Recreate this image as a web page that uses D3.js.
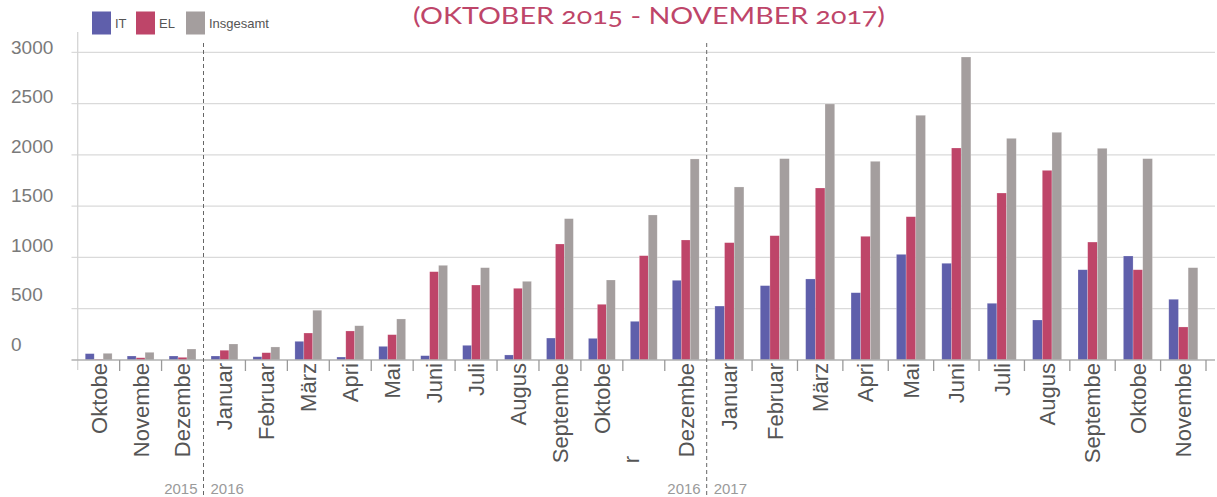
<!DOCTYPE html>
<html><head><meta charset="utf-8">
<script src="https://cdn.jsdelivr.net/npm/d3@7"></script>
<style>
html,body{margin:0;padding:0;background:#fff;}
svg{display:block;}
</style></head>
<body><svg id="chart" width="1217" height="497"></svg>
<script>
// ---- data ----
const years = [2015,2015,2015,2016,2016,2016,2016,2016,2016,2016,2016,2016,2016,2016,2016,2017,2017,2017,2017,2017,2017,2017,2017,2017,2017,2017];
const tickLabels = ["Oktobe","Novembe","Dezembe","Januar","Februar","März","Apri","Mai","Juni","Juli","Augus","Septembe","Oktobe","","Dezembe","Januar","Februar","März","Apri","Mai","Juni","Juli","Augus","Septembe","Oktobe","Novembe"];
const overflowLabels = ["","","","","","","","","","","","","","r","","","","","","","","","","","",""];
const seriesNames = ["IT","EL","Insgesamt"];
const itValues = [62,39,39,39,32,182,29,133,42,143,49,214,211,377,777,526,725,790,656,1030,943,553,390,880,1014,592];
const elValues = [8,22,26,95,71,263,283,247,861,731,699,1131,543,1017,1170,1144,1212,1677,1206,1397,2067,1628,1849,1150,880,322];
const totalValues = [65,75,107,156,127,485,334,400,923,900,767,1378,780,1414,1960,1687,1963,2496,1937,2386,2954,2161,2220,2064,1963,900];
const yTicks = [0,500,1000,1500,2000,2500,3000];
const titleText = "(OKTOBER 2015 - NOVEMBER 2017)";

const colors = {IT:"#5f5fab", EL:"#be4569", Insgesamt:"#a49e9e"};
const seriesValues = {IT:itValues, EL:elValues, Insgesamt:totalValues};

// ---- layout ----
const svg = d3.select("#chart");
const baseY = 360, topY = 52.3;
const y = d3.scaleLinear().domain([0,3000]).range([baseY, topY]);
const yLabel = d3.scaleLinear().domain([0,3000]).range([344, 47]);

// year boundaries
const bounds = [];
for (let i=1;i<years.length;i++) if (years[i]!==years[i-1]) bounds.push(i);
const n = years.length;
const x = d3.scaleLinear().domain([0, bounds[1], n]).range([77.7, 706.7, 1206]);

// gridlines
svg.append("g").selectAll("line").data(yTicks.filter(d=>d>0)).join("line")
  .attr("x1",71.5).attr("x2",1215)
  .attr("y1",d=>y(d)).attr("y2",d=>y(d))
  .attr("stroke","#dadada").attr("stroke-width",1.3);

// y-axis vertical line
svg.append("line").attr("x1",77.7).attr("x2",77.7).attr("y1",32).attr("y2",370)
  .attr("stroke","#d4d4d4").attr("stroke-width",1.3);

// y labels
svg.append("g").selectAll("text").data(yTicks).join("text")
  .attr("x",11).attr("y",d=>yLabel(d)).attr("dy","0.35em")
  .attr("font-family","Liberation Sans, Arial, sans-serif").attr("font-size",19)
  .attr("fill","#7a7a7a").text(d=>d);

// bars
const barG = svg.append("g");
for (let i=0;i<n;i++){
  const x0 = x(i), w = x(i+1)-x(i);
  const gw = w*0.64;
  const sub = d3.scaleBand().domain(seriesNames).range([x0+(w-gw)/2, x0+(w+gw)/2]);
  seriesNames.forEach(s=>{
    const v = seriesValues[s][i];
    barG.append("rect")
      .attr("x",sub(s)).attr("width",sub.bandwidth())
      .attr("y",y(v)).attr("height",baseY-y(v))
      .attr("fill",colors[s])
      .attr("stroke","#ffffff").attr("stroke-opacity",0.35).attr("stroke-width",0.6);
  });
}

// baseline
svg.append("line").attr("x1",71.5).attr("x2",1215).attr("y1",baseY).attr("y2",baseY)
  .attr("stroke","#b0b0b0").attr("stroke-width",1.3);

// x ticks (separators)
const tickIdx = d3.range(1, n+1).filter(i=>!bounds.includes(i));
svg.append("g").selectAll("line").data(tickIdx).join("line")
  .attr("x1",d=>x(d)).attr("x2",d=>x(d)).attr("y1",baseY).attr("y2",baseY+11)
  .attr("stroke","#9a9a9a").attr("stroke-width",1.3);

// month labels
svg.append("g").selectAll("text").data(tickLabels).join("text")
  .attr("transform",(d,i)=>`translate(${(x(i)+x(i+1))/2},${baseY+3}) rotate(-90)`)
  .attr("text-anchor","end").attr("dy","0.36em")
  .attr("font-family","Liberation Sans, Arial, sans-serif").attr("font-size",22)
  .attr("fill","#555").text(d=>d);
svg.append("g").selectAll("text").data(overflowLabels).join("text")
  .attr("transform",(d,i)=>`translate(${(x(i)+x(i+1))/2 - 13},${baseY+96}) rotate(-90)`)
  .attr("text-anchor","end").attr("dy","0.36em")
  .attr("font-family","Liberation Sans, Arial, sans-serif").attr("font-size",22)
  .attr("fill","#555").text(d=>d);

// year dividers
bounds.forEach(b=>{
  const bx = x(b);
  svg.append("line").attr("x1",bx).attr("x2",bx).attr("y1",43).attr("y2",497)
    .attr("stroke","#666").attr("stroke-width",1).attr("stroke-dasharray","4,3");
  svg.append("text").attr("x",bx-6).attr("y",494).attr("text-anchor","end")
    .attr("font-family","Liberation Sans, Arial, sans-serif").attr("font-size",15)
    .attr("fill","#9a9a9a").text(years[b-1]);
  svg.append("text").attr("x",bx+7).attr("y",494).attr("text-anchor","start")
    .attr("font-family","Liberation Sans, Arial, sans-serif").attr("font-size",15)
    .attr("fill","#9a9a9a").text(years[b]);
});

// legend
const legX = [92,136,186];
const lg = svg.append("g");
seriesNames.forEach((s,k)=>{
  lg.append("rect").attr("x",legX[k]).attr("y",11.5).attr("width",19).attr("height",23).attr("fill",colors[s]);
  lg.append("text").attr("x",legX[k]+23).attr("y",27.5)
    .attr("font-family","Liberation Sans, Arial, sans-serif").attr("font-size",13)
    .attr("fill","#555").text(s);
});

// title
svg.append("text").attr("x",649).attr("y",24).attr("text-anchor","middle")
  .attr("font-family","Lato, 'Open Sans', sans-serif").attr("font-size",24)
  .style("font-variant-numeric","oldstyle-nums")
  .attr("textLength",472).attr("lengthAdjust","spacingAndGlyphs")
  .attr("fill","#be4569").text(titleText);
</script>
</body></html>
